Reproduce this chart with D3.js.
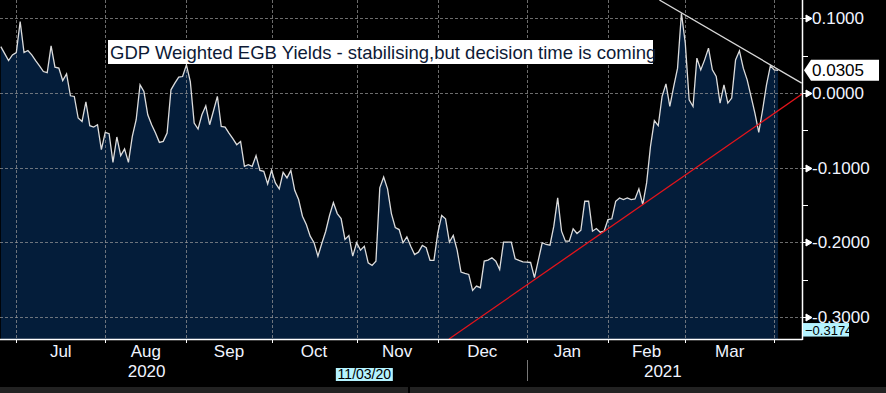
<!DOCTYPE html>
<html>
<head>
<meta charset="utf-8">
<script src="https://cdn.jsdelivr.net/npm/d3@7/dist/d3.min.js"></script>
<style>
  body { margin: 0; background: #000; }
  text { font-family: "Liberation Sans", Arial, sans-serif; }
</style>
</head>
<body>
<div id="chart"></div>
<script>
// daily series, one value per weekday starting at startDate
var startDate = "2020-06-24";
var yields = [
  0.0623, 0.0529, 0.0436, 0.0512, 0.0543, 0.0957, 0.0543, 0.0570, 0.0512, 0.0436,
  0.0365, 0.0289, 0.0275, 0.0632, 0.0348, 0.0334, 0.0168, 0.0258, -0.0036, -0.0045,
  -0.0334, -0.0380, -0.0116, -0.0437, -0.0455, -0.0424, -0.0758, -0.0527, -0.0544, -0.0928,
  -0.0588, -0.0838, -0.0749, -0.0928, -0.0580, -0.0357, 0.0111, 0.0021, -0.0290, -0.0424,
  -0.0535, -0.0660, -0.0647, -0.0535, 0.0044, 0.0134, 0.0214, 0.0222, 0.0378, 0.0155,
  -0.0401, -0.0481, -0.0290, -0.0170, -0.0424, -0.0237, -0.0045, -0.0447, -0.0455, -0.0535,
  -0.0611, -0.0691, -0.0647, -0.0981, -0.0959, -0.0981, -0.0838, -0.1035, -0.1048, -0.1217,
  -0.1035, -0.1203, -0.1283, -0.1061, -0.1136, -0.1035, -0.1302, -0.1426, -0.1650, -0.1761,
  -0.1917, -0.2005, -0.2184, -0.2015, -0.1854, -0.1640, -0.1467, -0.1614, -0.1680, -0.1961,
  -0.1908, -0.2184, -0.2005, -0.2104, -0.2051, -0.2273, -0.2309, -0.2251, -0.1270, -0.1123,
  -0.1283, -0.1614, -0.1801, -0.1828, -0.2005, -0.1925, -0.2051, -0.2162, -0.2131, -0.2041,
  -0.2072, -0.2242, -0.2242, -0.1872, -0.1640, -0.1684, -0.1997, -0.1908, -0.2104, -0.2398,
  -0.2416, -0.2429, -0.2643, -0.2586, -0.2607, -0.2251, -0.2238, -0.2206, -0.2251, -0.2362,
  -0.1997, -0.1997, -0.1997, -0.2219, -0.2242, -0.2262, -0.2265, -0.2269, -0.2473, -0.2238,
  -0.2005, -0.2028, -0.2037, -0.1783, -0.1404, -0.1850, -0.1984, -0.1984, -0.1818, -0.1881,
  -0.1837, -0.1449, -0.1449, -0.1850, -0.1814, -0.1864, -0.1850, -0.1694, -0.1684, -0.1449,
  -0.1404, -0.1426, -0.1404, -0.1426, -0.1417, -0.1283, -0.1493, -0.1203, -0.0714, -0.0370,
  -0.0437, -0.0045, 0.0124, -0.0179, 0.0088, 0.0334, 0.1070, 0.0668, -0.0090, -0.0179,
  0.0468, 0.0311, 0.0445, 0.0602, 0.0311, 0.0222, -0.0134, 0.0111, -0.0134, -0.0067,
  0.0445, 0.0566, 0.0334, 0.0178, -0.0045, -0.0267, -0.0527, -0.0223, 0.0111, 0.0365,
  0.0311, 0.0305
];

var yTicks = [0.1, 0, -0.1, -0.2, -0.3];
var yMinorTicks = [0.05, -0.05, -0.15, -0.25];
var monthNames = ["Jan", "Feb", "Mar", "Apr", "May", "Jun", "Jul", "Aug", "Sep", "Oct", "Nov", "Dec"];
// year labels: [text, trading-day position]
var yearLabels = [["2020", 37.7], ["2021", 171.2]];
// trend lines drawn by hand on the original: [trading-day position, value]
var supportLine = [[115.9, -0.3294], [207.2, -0.0013]];
var resistLine = [[170.3, 0.1247], [207.1, 0.0134]];
var lastValue = 0.0305;
var lowMarker = -0.3174;
var cursorDate = "2020-11-03";
var title = "GDP Weighted EGB Yields - stabilising,but decision time is coming";

///////////////////////////////////////////////////////////////
// build weekday dates
var dates = [];
var day = new Date(startDate + "T00:00:00Z");
while (dates.length < yields.length) {
  var wd = day.getUTCDay();
  if (wd != 0 && wd != 6) dates.push(new Date(day));
  day = new Date(day.getTime() + 86400000);
}
var data = yields.map(function(v, i) { return {i: i, date: dates[i], value: v}; });

var W = 886, H = 393;
var plotRight = 802, plotBottom = 339;

var svg = d3.select("#chart")
  .append("svg")
  .attr("width", W)
  .attr("height", H)
  .style("display", "block")
  .style("background", "#000");

var x = d3.scaleLinear()
  .domain([0, yields.length - 1])
  .range([0.83, 778.1]);

var y = d3.scaleLinear()
  .domain([-0.3294, 0.1247])
  .range([plotBottom, 0]);

// month boundaries = last trading day of each month
var monthTicks = [];
for (var i = 0; i < dates.length - 1; i++) {
  if (dates[i].getUTCMonth() != dates[i + 1].getUTCMonth()) monthTicks.push(i);
}

///////////////////////////////////////////////////////////////
// area + line
var area = d3.area()
  .x(function(d) { return x(d.i); })
  .y0(plotBottom)
  .y1(function(d) { return y(d.value); });

var line = d3.line()
  .x(function(d) { return x(d.i); })
  .y(function(d) { return y(d.value); });

svg.append("path")
  .datum(data)
  .attr("d", area)
  .attr("fill", "#041d3a");

// grid
svg.append("g")
  .selectAll("line")
  .data(yTicks)
  .enter().append("line")
  .attr("x1", 0)
  .attr("x2", plotRight)
  .attr("y1", function(d) { return Math.round(y(d)) + 0.5; })
  .attr("y2", function(d) { return Math.round(y(d)) + 0.5; })
  .attr("stroke", "#9a9a9a")
  .attr("stroke-opacity", 0.7)
  .attr("stroke-dasharray", "3,2");

svg.append("g")
  .selectAll("line")
  .data(monthTicks)
  .enter().append("line")
  .attr("x1", function(d) { return Math.round(x(d)) + 0.5; })
  .attr("x2", function(d) { return Math.round(x(d)) + 0.5; })
  .attr("y1", 0)
  .attr("y2", plotBottom)
  .attr("stroke", "#9a9a9a")
  .attr("stroke-opacity", 0.7)
  .attr("stroke-dasharray", "3,2");

svg.append("path")
  .datum(data)
  .attr("d", line)
  .attr("fill", "none")
  .attr("stroke", "#dcdcdc")
  .attr("stroke-width", 1.3);

// trend lines
var trend = d3.line()
  .x(function(d) { return x(d[0]); })
  .y(function(d) { return y(d[1]); });

svg.append("path")
  .attr("d", trend(supportLine))
  .attr("stroke", "#e3141b")
  .attr("stroke-width", 1.3)
  .attr("fill", "none");

svg.append("path")
  .attr("d", trend(resistLine))
  .attr("stroke", "#d8d8d8")
  .attr("stroke-width", 1.3)
  .attr("fill", "none");

///////////////////////////////////////////////////////////////
// axes
svg.append("line")
  .attr("x1", 0).attr("x2", plotRight + 0.5)
  .attr("y1", plotBottom + 0.5).attr("y2", plotBottom + 0.5)
  .attr("stroke", "#fff").attr("stroke-width", 1.5);

svg.append("line")
  .attr("x1", plotRight + 0.5).attr("x2", plotRight + 0.5)
  .attr("y1", 0).attr("y2", plotBottom + 1)
  .attr("stroke", "#fff").attr("stroke-width", 1.5);

svg.append("g")
  .selectAll("line")
  .data(monthTicks)
  .enter().append("line")
  .attr("x1", function(d) { return Math.round(x(d)) + 0.5; })
  .attr("x2", function(d) { return Math.round(x(d)) + 0.5; })
  .attr("y1", plotBottom)
  .attr("y2", plotBottom + 4)
  .attr("stroke", "#fff");

// month labels between boundaries
var monthLabels = [];
for (var k = 0; k < monthTicks.length - 1; k++) {
  monthLabels.push({
    name: monthNames[dates[monthTicks[k] + 1].getUTCMonth()],
    cx: (x(monthTicks[k]) + x(monthTicks[k + 1])) / 2
  });
}
svg.append("g")
  .selectAll("text")
  .data(monthLabels)
  .enter().append("text")
  .attr("x", function(d) { return d.cx; })
  .attr("y", 357)
  .attr("text-anchor", "middle")
  .attr("fill", "#f0f4ff")
  .style("font-size", "17px")
  .text(function(d) { return d.name; });

svg.append("g")
  .selectAll("text")
  .data(yearLabels)
  .enter().append("text")
  .attr("x", function(d) { return x(d[1]); })
  .attr("y", 377)
  .attr("text-anchor", "middle")
  .attr("fill", "#f0f4ff")
  .style("font-size", "17px")
  .text(function(d) { return d[0]; });

// year separator
var yearBreak = monthTicks.filter(function(t) { return dates[t].getUTCFullYear() != dates[t + 1].getUTCFullYear(); });
svg.append("g")
  .selectAll("line")
  .data(yearBreak)
  .enter().append("line")
  .attr("x1", function(d) { return Math.round(x(d)) + 0.5; })
  .attr("x2", function(d) { return Math.round(x(d)) + 0.5; })
  .attr("y1", 360)
  .attr("y2", 381)
  .attr("stroke", "#777");

// y ticks, right side
svg.append("g")
  .selectAll("path")
  .data(yTicks)
  .enter().append("path")
  .attr("d", function(d) {
    var yy = Math.round(y(d)) + 0.5;
    return "M" + (plotRight + 1) + "," + yy + "H806" +
      "M806," + (yy - 3.5) + "L812," + yy + "L806," + (yy + 3.5) + "Z";
  })
  .attr("stroke", "#fff")
  .attr("fill", "#fff");

svg.append("g")
  .selectAll("line")
  .data(yMinorTicks)
  .enter().append("line")
  .attr("x1", plotRight)
  .attr("x2", plotRight + 6)
  .attr("y1", function(d) { return Math.round(y(d)) + 0.5; })
  .attr("y2", function(d) { return Math.round(y(d)) + 0.5; })
  .attr("stroke", "#fff");

svg.append("g")
  .selectAll("text")
  .data(yTicks)
  .enter().append("text")
  .attr("x", 812)
  .attr("y", function(d) { return y(d) + 6; })
  .attr("fill", "#f0f4ff")
  .style("font-size", "17px")
  .text(function(d) { return (d < 0 ? "-" : "") + d3.format(".4f")(Math.abs(d)); });

// last value tag
var ly = y(lastValue);
svg.append("path")
  .attr("d", "M804," + ly + "L811," + (ly - 10.5) + "H879V" + (ly + 10.5) + "H811Z")
  .attr("fill", "#fff");
svg.append("text")
  .attr("x", 812)
  .attr("y", ly + 6)
  .attr("fill", "#000")
  .style("font-size", "17px")
  .text(d3.format(".4f")(lastValue));

// low marker
var lowY = y(lowMarker);
svg.append("rect")
  .attr("x", 803).attr("y", lowY - 7)
  .attr("width", 46).attr("height", 13.5)
  .attr("fill", "#b5f3ff");
svg.append("text")
  .attr("x", 805)
  .attr("y", lowY + 4.5)
  .attr("fill", "#000")
  .style("font-size", "13px")
  .text(d3.format(".4f")(lowMarker));

// cursor date tag
var cursorIdx = dates.findIndex(function(d) { return d.toISOString().slice(0, 10) == cursorDate; });
var cx = x(cursorIdx);
var cursorText = d3.utcFormat("%m/%d/%y")(dates[cursorIdx]);
svg.append("rect")
  .attr("x", cx - 28.5).attr("y", 368)
  .attr("width", 57).attr("height", 13)
  .attr("fill", "#b5f3ff");
svg.append("text")
  .attr("x", cx)
  .attr("y", 379)
  .attr("text-anchor", "middle")
  .attr("fill", "#000")
  .style("font-size", "14px")
  .text(cursorText);

// bottom status strip
svg.append("rect")
  .attr("x", 0).attr("y", 387)
  .attr("width", W).attr("height", 6)
  .attr("fill", "#222");
svg.append("rect")
  .attr("x", 408).attr("y", 387)
  .attr("width", 2).attr("height", 6)
  .attr("fill", "#000");

///////////////////////////////////////////////////////////////
// title box
svg.append("rect")
  .attr("x", 108).attr("y", 40)
  .attr("width", 545).attr("height", 24)
  .attr("fill", "#fff");
svg.append("text")
  .attr("x", 110)
  .attr("y", 59)
  .attr("fill", "#0d1a36")
  .style("font-size", "18.5px")
  .text(title);
</script>
</body>
</html>
